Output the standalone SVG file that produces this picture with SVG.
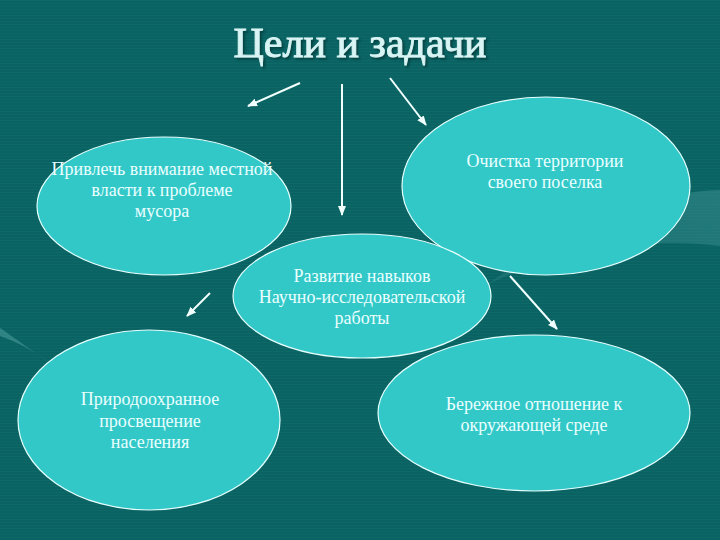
<svg xmlns="http://www.w3.org/2000/svg" width="720" height="540" viewBox="0 0 720 540">
<defs>
<pattern id="stripes" width="4" height="3" patternUnits="userSpaceOnUse">
<rect width="4" height="3" fill="#0a6262"/>
<rect width="4" height="1" fill="#0d6868"/>
</pattern>
<linearGradient id="band" x1="1" y1="0" x2="0" y2="1">
<stop offset="0" stop-color="#3a8e8e" stop-opacity="0.9"/>
<stop offset="1" stop-color="#3a8e8e" stop-opacity="0.5"/>
</linearGradient>
<marker id="ah" viewBox="0 0 10 10" refX="9" refY="5" markerWidth="5" markerHeight="5" orient="auto-start-reverse" markerUnits="strokeWidth">
<path d="M0,1 L10,5 L0,9 Z" fill="#f2ffff"/>
</marker>
<filter id="sh" x="-10%" y="-20%" width="120%" height="140%">
<feDropShadow dx="2" dy="2" stdDeviation="1" flood-color="#033" flood-opacity="0.7"/>
</filter>
</defs>
<style>
.node ellipse{fill:#33c8c8;stroke:#e6ffff;stroke-width:1.2}
.node text{font-family:"Liberation Serif","DejaVu Serif",serif;font-size:18px;fill:#eaffff;text-anchor:middle}
.conn line{stroke:#f2ffff;stroke-width:2;marker-end:url(#ah)}
</style>
<rect width="720" height="540" fill="url(#stripes)"/>
<g id="background-swooshes">
<path d="M720,190 C650,192 570,225 488,284 C560,252 640,236 720,246 Z" fill="url(#band)" opacity="0.6"/>
<path d="M0,328 C15,338 30,350 52,364 C35,352 18,342 0,336 Z" fill="#4a9a9a" opacity="0.6"/>
</g>
<text x="360" y="57" font-family="Liberation Serif,DejaVu Serif,serif" font-size="42" fill="#d8f4f4" stroke="#d8f4f4" stroke-width="0.9" text-anchor="middle" filter="url(#sh)">Цели и задачи</text>
<g id="connectors" class="conn">
<line x1="300" y1="83" x2="248" y2="106"/>
<line x1="342" y1="84" x2="342" y2="215"/>
<line x1="390" y1="78" x2="426" y2="125"/>
<line x1="210" y1="293" x2="187" y2="316"/>
<line x1="510" y1="276" x2="557" y2="329"/>
</g>
<g id="node-attention" class="node">
<ellipse cx="164" cy="206" rx="127" ry="69"/>
<text x="162" y="175">Привлечь внимание местной</text>
<text x="162" y="196">власти к проблеме</text>
<text x="162" y="217">мусора</text>
</g>
<g id="node-cleanup" class="node">
<ellipse cx="546" cy="186" rx="144" ry="89"/>
<text x="545" y="167">Очистка территории</text>
<text x="545" y="188">своего поселка</text>
</g>
<g id="node-research" class="node">
<ellipse cx="362" cy="296" rx="129" ry="62"/>
<text x="362" y="282">Развитие навыков</text>
<text x="362" y="303">Научно-исследовательской</text>
<text x="362" y="324">работы</text>
</g>
<g id="node-education" class="node">
<ellipse cx="149" cy="420" rx="131" ry="90"/>
<text x="150" y="405">Природоохранное</text>
<text x="150" y="427">просвещение</text>
<text x="150" y="448">населения</text>
</g>
<g id="node-care" class="node">
<ellipse cx="534" cy="413" rx="156" ry="78"/>
<text x="534" y="410">Бережное отношение к</text>
<text x="534" y="431">окружающей среде</text>
</g>
</svg>
